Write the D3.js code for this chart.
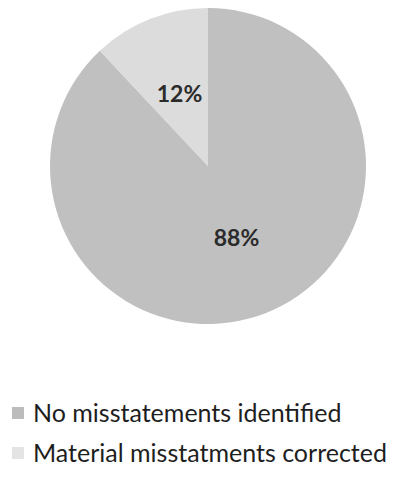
<!DOCTYPE html>
<html>
<head>
<meta charset="utf-8">
<script src="https://cdn.jsdelivr.net/npm/d3@7"></script>
<style>
  html, body { margin: 0; padding: 0; background: #fff; }
</style>
</head>
<body>
<div id="chart"></div>
<script>
const categories = ['No misstatements identified', 'Material misstatments corrected'];
const values = [88, 12];
const labels = ['88%', '12%'];
const sliceColors = ['#c0c0c0', '#dcdcdc'];
const legendColors = ['#bcbcbc', '#e4e4e4'];

const width = 394;
const height = 483;
const radius = 158;
const cx = 208;
const cy = 166;

const data = categories.map((name, i) => ({ name, value: values[i], label: labels[i], i }));

const svg = d3.select('#chart')
  .append('svg')
  .attr('width', width)
  .attr('height', height);

const g = svg.append('g')
  .attr('transform', `translate(${cx}, ${cy})`);

const pie = d3.pie().sort(null).value(d => d.value);
const arc = d3.arc().innerRadius(0).outerRadius(radius);
const labelArc = d3.arc().innerRadius(0).outerRadius(radius * 0.98);

const arcs = pie(data);

g.selectAll('path')
  .data(arcs)
  .enter()
  .append('path')
  .attr('d', arc)
  .attr('fill', d => sliceColors[d.data.i]);

g.selectAll('text')
  .data(arcs)
  .enter()
  .append('text')
  .attr('transform', d => `translate(${labelArc.centroid(d)})`)
  .attr('text-anchor', 'middle')
  .attr('dy', '0.35em')
  .style('font-family', 'Lato, "Open Sans", sans-serif')
  .style('font-weight', 'bold')
  .style('font-size', '23px')
  .style('fill', '#2b2b2b')
  .text(d => d.data.label);

// legend
const legend = svg.append('g')
  .attr('transform', 'translate(12, 413)');

const row = legend.selectAll('g')
  .data(data)
  .enter()
  .append('g')
  .attr('transform', (d, i) => `translate(0, ${i * 40})`);

row.append('rect')
  .attr('x', 0)
  .attr('y', -6)
  .attr('width', 12)
  .attr('height', 12)
  .attr('fill', d => legendColors[d.i]);

row.append('text')
  .attr('x', 21)
  .attr('dy', '0.35em')
  .style('font-family', 'Lato, "Open Sans", sans-serif')
  .style('font-size', '25px')
  .style('fill', '#1e1e1e')
  .text(d => d.name);
</script>
</body>
</html>
